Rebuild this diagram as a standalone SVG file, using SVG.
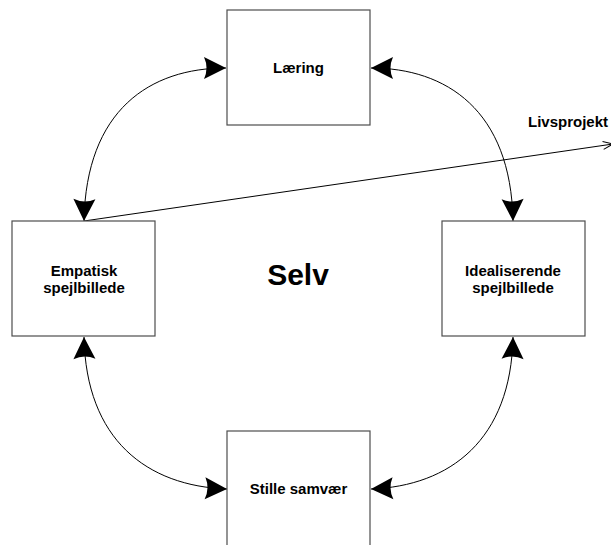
<svg xmlns="http://www.w3.org/2000/svg" width="611" height="545" viewBox="0 0 611 545">
<style>
.box{fill:#fff;stroke:#4d4d4d;stroke-width:1.2}
.lbl{font-family:"Liberation Sans",Arial,sans-serif;font-weight:bold;font-size:15px;fill:#000;text-anchor:middle}
.big{font-size:30px}
.con{fill:none;stroke:#000;stroke-width:1}
</style>
<defs>
<marker id="ah" markerUnits="userSpaceOnUse" viewBox="-23 -12 24 24" markerWidth="24" markerHeight="24" refX="0" refY="0" orient="auto-start-reverse">
<path d="M0,0 L-22,-11 Q-17,0 -22,11 Z" fill="#000"/>
</marker>
<marker id="open" markerUnits="userSpaceOnUse" viewBox="-12 -6 13 12" markerWidth="13" markerHeight="12" refX="0" refY="0" orient="auto">
<path d="M-10,-4 L0,0 L-10,4" fill="none" stroke="#000" stroke-width="1"/>
</marker>
</defs>
<rect width="611" height="545" fill="#fff"/>
<g id="connectors">
<path class="con" d="M84,221 L613,144" marker-end="url(#open)"/>
<path class="con" d="M226,68 C150,68 86,110 84,221" marker-start="url(#ah)" marker-end="url(#ah)"/>
<path class="con" d="M371,68 C446,68 511,110 513,221" marker-start="url(#ah)" marker-end="url(#ah)"/>
<path class="con" d="M84,337 C86,440 147,486 227,489" marker-start="url(#ah)" marker-end="url(#ah)"/>
<path class="con" d="M513,337 C511,440 450,486 371,489" marker-start="url(#ah)" marker-end="url(#ah)"/>
</g>
<g id="laering">
<rect class="box" x="227" y="10" width="143" height="115"/>
<text class="lbl" x="298.5" y="73">Læring</text>
</g>
<g id="empatisk">
<rect class="box" x="12" y="221" width="143" height="115"/>
<text class="lbl" x="84" y="276">Empatisk</text>
<text class="lbl" x="84" y="293">spejlbillede</text>
</g>
<g id="idealiserende">
<rect class="box" x="442" y="221" width="143" height="115"/>
<text class="lbl" x="513" y="276">Idealiserende</text>
<text class="lbl" x="513" y="293">spejlbillede</text>
</g>
<g id="stille">
<rect class="box" x="227" y="431" width="143" height="130"/>
<text class="lbl" x="298.5" y="494">Stille samvær</text>
</g>
<g id="selv">
<text class="lbl big" x="298" y="285">Selv</text>
</g>
<g id="livsprojekt">
<text class="lbl" x="528" y="127" style="text-anchor:start">Livsprojekt</text>
</g>
</svg>
